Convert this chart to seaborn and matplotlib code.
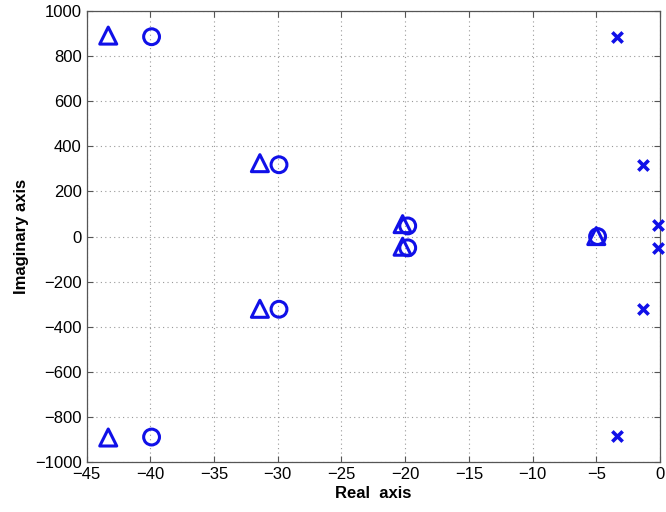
import matplotlib
matplotlib.use("Agg")
import matplotlib.pyplot as plt
import seaborn as sns
import pandas as pd

# Data
tri_re = [-43.3, -43.3, -31.4, -31.4, -20.2, -20.2, -5.0]
tri_im = [890, -890, 325, -320, 55, -45, 2]
circ_re = [-39.9, -39.9, -29.9, -29.9, -19.8, -19.8, -4.9]
circ_im = [885, -888, 318, -322, 47, -50, 0]
cross_re = [-3.4, -3.4, -1.3, -1.3, -0.15, -0.15]
cross_im = [885, -885, 318, -322, 52, -52]

x_ticks = [-45, -40, -35, -30, -25, -20, -15, -10, -5, 0]
y_ticks = [-1000, -800, -600, -400, -200, 0, 200, 400, 600, 800, 1000]

sns.set_style("white")
plt.rcParams['font.family'] = ['Liberation Sans', 'DejaVu Sans']
plt.rcParams['axes.unicode_minus'] = True
plt.rcParams['text.color'] = 'black'
plt.rcParams['axes.labelcolor'] = 'black'

fig = plt.figure(figsize=(6.66, 5.12), dpi=100)
ax = fig.add_axes([0.13, 0.097, 0.861, 0.882])

blue = '#1010e8'
df_t = pd.DataFrame({'re': tri_re, 'im': tri_im})
df_c = pd.DataFrame({'re': circ_re, 'im': circ_im})
df_x = pd.DataFrame({'re': cross_re, 'im': cross_im})

sns.scatterplot(data=df_c, x='re', y='im', marker='o', s=130, facecolors='none',
                edgecolor=blue, linewidth=2.2, ax=ax, zorder=3, clip_on=False)
sns.scatterplot(data=df_t, x='re', y='im', marker='^', s=150, facecolors='none',
                edgecolor=blue, linewidth=2.2, ax=ax, zorder=3, clip_on=False)
sns.scatterplot(data=df_x, x='re', y='im', marker='x', s=55, color=blue,
                linewidth=2.6, ax=ax, zorder=3, clip_on=False)

ax.set_xlim(-45, 0)
ax.set_ylim(-1000, 1000)
ax.set_xticks(x_ticks)
ax.set_yticks(y_ticks)
ax.grid(True, linestyle=(0, (1, 3)), color='#999999', linewidth=0.8)
ax.set_axisbelow(True)
for s in ax.spines.values():
    s.set_color('#555555')
    s.set_linewidth(0.9)
ax.tick_params(direction='in', length=4, labelsize=12, colors='#555555',
               labelcolor='black', top=True, right=True, bottom=True, left=True)
ax.set_xlabel('Real  axis', fontsize=12, fontweight='bold', labelpad=3, color='black')
ax.set_ylabel('Imaginary axis', fontsize=12, fontweight='bold', labelpad=4, color='black')

fig.savefig('out.png', dpi=100)
